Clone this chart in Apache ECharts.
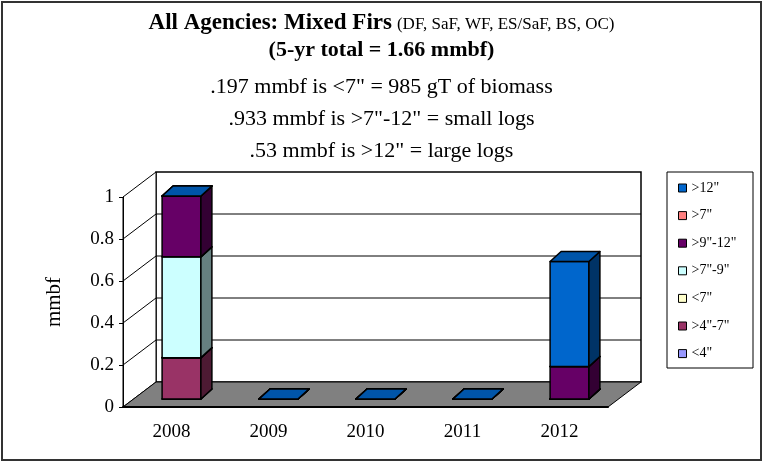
<!DOCTYPE html>
<html>
<head>
<meta charset="utf-8">
<title>All Agencies: Mixed Firs</title>
<script src="https://cdn.jsdelivr.net/npm/echarts@6/dist/echarts.min.js"></script>
<style>
  html, body { margin: 0; padding: 0; background: #fff; }
  #chart { width: 763px; height: 462px; }
</style>
</head>
<body>
<div id="chart"></div>
<script>
// categories
var years = ["2008", "2009", "2010", "2011", "2012"];
// mmbf per diameter class, Excel series order (bottom of the stack first)
var lt4 = [0, 0, 0, 0, 0];            // <4"
var in4to7 = [0.197, 0, 0, 0, 0];     // >4"-7"
var lt7 = [0, 0, 0, 0, 0];            // <7"
var in7to9 = [0.48, 0, 0, 0, 0];      // >7"-9"
var in9to12 = [0.29, 0, 0, 0, 0.155]; // >9"-12"
var gt7 = [0, 0, 0, 0, 0];            // >7"
var gt12 = [0, 0, 0, 0, 0.5];         // >12"
var yTicks = [0, 0.2, 0.4, 0.6, 0.8, 1];

var seriesNames = ['<4"', '>4"-7"', '<7"', '>7"-9"', '>9"-12"', '>7"', '>12"'];
var seriesData = [lt4, in4to7, lt7, in7to9, in9to12, gt7, gt12];
var colors = ["#9999ff", "#993366", "#ffffcc", "#ccffff", "#660066", "#ff8080", "#0066cc"];

var FONT = "Liberation Serif";
var WALL = [33, -25];    // depth of the box (px)
var BAR_OFF = [10, -8];  // where the bar front sits inside the depth
var BAR_D = [11, -10];   // bar thickness
var BAR_RATIO = 0.4;

// darken a #rrggbb colour
function shade(hex, k) {
  var n = parseInt(hex.slice(1), 16);
  var r = Math.round(((n >> 16) & 255) * k);
  var g = Math.round(((n >> 8) & 255) * k);
  var b = Math.round((n & 255) * k);
  return "rgb(" + r + "," + g + "," + b + ")";
}

// walls + floor drawn from the grid rect
function renderFrame(params, api) {
  var cs = params.coordSys;
  var x0 = cs.x, x1 = cs.x + cs.width, yt = cs.y, yb = cs.y + cs.height;
  var dx = WALL[0], dy = WALL[1];
  var kids = [];
  kids.push({
    type: "rect",
    shape: { x: x0 + dx, y: yt + dy, width: cs.width, height: cs.height },
    style: { fill: "#fff", stroke: "#000", lineWidth: 1.5 }
  });
  kids.push({
    type: "polygon",
    shape: { points: [[x0, yt], [x0 + dx, yt + dy], [x0 + dx, yb + dy], [x0, yb]] },
    style: { fill: "#fff", stroke: "#000", lineWidth: 1 }
  });
  yTicks.forEach(function (v) {
    if (v <= 0 || v >= 1) return;
    var y = api.coord([0, v])[1];
    kids.push({
      type: "polyline",
      shape: { points: [[x0, y], [x0 + dx, y + dy], [x1 + dx, y + dy]] },
      style: { fill: null, stroke: "#000", lineWidth: 1 }
    });
  });
  kids.push({
    type: "polygon",
    shape: { points: [[x0, yb], [x1, yb], [x1 + dx, yb + dy], [x0 + dx, yb + dy]] },
    style: { fill: "#808080", stroke: "#000", lineWidth: 1 }
  });
  return { type: "group", children: kids };
}

function renderBar(params, api) {
  var c = api.value(0), base = api.value(1), val = api.value(2);
  var pb = api.coord([c, base]);
  var pt = api.coord([c, base + val]);
  var hw = api.size([1, 0])[0] * BAR_RATIO / 2;
  var l = pb[0] - hw + BAR_OFF[0], r = pb[0] + hw + BAR_OFF[0];
  var yb = pb[1] + BAR_OFF[1], yt = pt[1] + BAR_OFF[1];
  var bx = BAR_D[0], by = BAR_D[1];
  var color = colors[params.seriesIndex - 1];
  var line = { stroke: "#000", lineWidth: 1.5, lineJoin: "round" };
  return {
    type: "group",
    children: [
      { type: "polygon", shape: { points: [[l, yb], [r, yb], [r, yt], [l, yt]] },
        style: Object.assign({ fill: color }, line) },
      { type: "polygon", shape: { points: [[r, yb], [r + bx, yb + by], [r + bx, yt + by], [r, yt]] },
        style: Object.assign({ fill: shade(color, 0.5) }, line) },
      { type: "polygon", shape: { points: [[l, yt], [r, yt], [r + bx, yt + by], [l + bx, yt + by]] },
        style: Object.assign({ fill: shade(color, 0.83) }, line) }
    ]
  };
}

var series = [{
  name: "frame",
  type: "custom",
  renderItem: renderFrame,
  clip: false,
  silent: true,
  z: 1,
  data: [[0, 0]]
}];
var stackBase = years.map(function () { return 0; });
seriesData.forEach(function (arr, i) {
  var d = arr.map(function (v, c) {
    var item = [c, stackBase[c], v];
    stackBase[c] += v;
    return item;
  });
  series.push({
    name: seriesNames[i],
    type: "custom",
    renderItem: renderBar,
    clip: false,
    z: 3,
    itemStyle: { color: colors[i] },
    encode: { x: 0, y: 2 },
    data: d
  });
});

var legendData = seriesNames.map(function (n, i) {
  return { name: n, icon: "rect", itemStyle: { color: colors[i], borderColor: "#000", borderWidth: 1 } };
}).reverse();

var titleStyle = { fontFamily: FONT, fontSize: 22, fontWeight: "normal", color: "#000" };

var chart = echarts.init(document.getElementById("chart"));
chart.setOption({
  animation: false,
  backgroundColor: "#fff",
  title: [
    {
      text: "{b|All Agencies: Mixed Firs} {s|(DF, SaF, WF, ES/SaF, BS, OC)}",
      left: "center", top: 7,
      textStyle: {
        rich: {
          b: { fontFamily: FONT, fontSize: 23, fontWeight: "bold", color: "#000" },
          s: { fontFamily: FONT, fontSize: 17, fontWeight: "normal", color: "#000", padding: [3, 0, 0, 0] }
        }
      }
    },
    { text: "(5-yr total = 1.66 mmbf)", left: "center", top: 34,
      textStyle: { fontFamily: FONT, fontSize: 22, fontWeight: "bold", color: "#000" } },
    { text: '.197 mmbf is <7" = 985 gT of biomass', left: "center", top: 71, textStyle: titleStyle },
    { text: '.933 mmbf is >7"-12" = small logs', left: "center", top: 103, textStyle: titleStyle },
    { text: '.53 mmbf is >12" = large logs', left: "center", top: 135, textStyle: titleStyle }
  ],
  legend: {
    orient: "vertical",
    left: 673, top: 176,
    itemWidth: 8, itemHeight: 8, itemGap: 13.6,
    selectedMode: false,
    textStyle: { fontFamily: FONT, fontSize: 14, color: "#000" },
    data: legendData
  },
  grid: { left: 123, right: 155, top: 197, bottom: 55 },
  xAxis: {
    type: "category",
    data: years,
    z: 10,
    axisLine: { lineStyle: { color: "#000", width: 2 } },
    axisTick: { length: 6, lineStyle: { color: "#000" } },
    axisLabel: { margin: 16, fontFamily: FONT, fontSize: 19, color: "#000" }
  },
  yAxis: {
    type: "value",
    min: 0, max: 1, interval: 0.2,
    z: 10,
    name: "mmbf",
    nameLocation: "middle",
    nameGap: 58,
    nameTextStyle: { fontFamily: FONT, fontSize: 21, color: "#000" },
    axisLine: { show: true, lineStyle: { color: "#000", width: 1 } },
    axisTick: { show: true, length: 4, lineStyle: { color: "#000" } },
    splitLine: { show: false },
    axisLabel: { margin: 9, fontFamily: FONT, fontSize: 19, color: "#000" }
  },
  graphic: [
    { type: "rect", shape: { x: 2, y: 2, width: 759, height: 458 },
      style: { fill: null, stroke: "#333", lineWidth: 2 }, silent: true },
    { type: "rect", shape: { x: 667, y: 172, width: 86, height: 196 },
      style: { fill: null, stroke: "#000", lineWidth: 1 }, silent: true }
  ],
  series: series
});
</script>
</body>
</html>
